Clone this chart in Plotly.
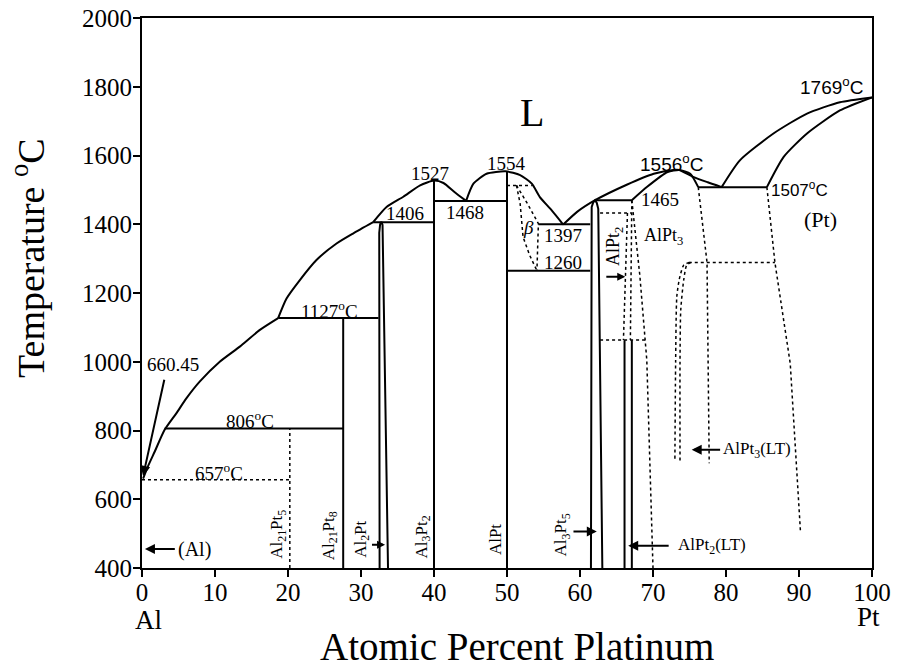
import plotly.graph_objects as go

# ---------------- data (atomic % Pt, temperature °C) ----------------
# liquidus segments
liq_al_x = [0.15, 0.8, 1.75, 3.1, 4.7, 6.1, 7.9, 10.65, 13.4, 16.1, 18.65]
liq_al_t = [660, 695, 739, 802, 850, 894, 942, 1000, 1044, 1092, 1127]
liq_b_x = [18.65, 19.8, 21.6, 23.9, 26.65, 28.9, 31.67]
liq_b_t = [1127, 1184, 1237, 1296, 1344, 1373, 1406]
liq_c_x = [31.67, 33.5, 35.8, 38.1, 40.0, 41.3, 42.8, 44.4]
liq_c_t = [1406, 1450, 1480, 1513, 1527, 1520, 1494, 1468]
liq_d_x = [44.4, 45.4, 47.2, 49.8, 51.8, 53.4, 54.5, 56.1, 57.7]
liq_d_t = [1468, 1518, 1547, 1554, 1543, 1518, 1479, 1441, 1399]
liq_e_x = [57.7, 59.6, 62.07, 66.4, 70.1, 72.8, 73.6, 75.5, 77.5, 79.4]
liq_e_t = [1399, 1436, 1470, 1515, 1547, 1558, 1558, 1538, 1522, 1508]
liq_f_x = [79.4, 81.9, 86.5, 91.1, 95.6, 100]
liq_f_t = [1508, 1586, 1664, 1722, 1755, 1769]
sol_pt_x = [85.6, 87.9, 91.1, 95.6, 100]
sol_pt_t = [1508, 1596, 1664, 1731, 1769]
sol_alpt3_x = [67.1, 69.2, 72.0, 73.6, 75.1, 76.2]
sol_alpt3_t = [1470, 1509, 1552, 1558, 1547, 1508]

# invariant horizontals (x1, x2, T)
iso_x1 = [3.1, 18.65, 31.67, 40.0, 54.3, 50.0, 62.07, 76.2]
iso_x2 = [27.56, 32.4, 40.0, 50.0, 61.4, 61.4, 67.1, 85.6]
iso_t = [806, 1127, 1406, 1468, 1400, 1265, 1470, 1508]

# compound verticals (x, T bottom, T top)
vert_x = [27.56, 40.0, 50.0, 66.1, 67.1]
vert_tb = [400, 400, 400, 400, 400]
vert_tt = [1127, 1527, 1554, 1063, 1063]

# narrow phases
al2pt_x = [32.55, 32.45, 32.5, 32.62, 32.8, 32.95, 33.7]
al2pt_t = [400, 1345, 1375, 1400, 1407, 1398, 400]
al3pt5_x = [61.5, 61.5, 61.6, 61.8, 62.07, 62.3, 62.5, 63.06]
al3pt5_t = [400, 1430, 1450, 1463, 1470, 1462, 1445, 400]

# dotted boundaries
dot_657_x = [0, 20.25]
dot_657_t = [657, 657]
dot_al21pt5_x = [20.25, 20.25]
dot_al21pt5_t = [400, 806]
beta_top_x = [50.0, 53.4]
beta_top_t = [1513, 1513]
beta_left_x = [51.3, 51.8, 52.2, 53.1, 54.1]
beta_left_t = [1513, 1460, 1363, 1310, 1265]
beta_right_x = [51.3, 52.8, 54.3, 54.1]
beta_right_t = [1513, 1460, 1402, 1265]
alpt2_top_x = [62.75, 67.0]
alpt2_top_t = [1433, 1433]
alpt2_bot_x = [62.75, 68.9]
alpt2_bot_t = [1063, 1063]
alpt2_a_x = [66.5, 65.95]
alpt2_a_t = [1433, 1063]
alpt2_b_x = [67.1, 66.9]
alpt2_b_t = [1470, 1063]
alpt3_c_x = [67.1, 68.2, 69.15, 70.0]
alpt3_c_t = [1470, 1250, 1005, 400]
alpt3_d_x = [76.2, 77.4, 77.7]
alpt3_d_t = [1508, 1289, 705]
pt_e_x = [85.6, 86.7, 88.8, 90.2]
pt_e_t = [1508, 1289, 995, 506]
lt_top_x = [74.9, 86.7]
lt_top_t = [1289, 1289]
lt_outer_x = [75.0, 74.2, 73.6, 73.26, 73.1, 73.0]
lt_outer_t = [1289, 1281, 1240, 1189, 1000, 715]
lt_inner_x = [75.2, 74.6, 74.2, 73.8, 73.7, 73.7]
lt_inner_t = [1289, 1280, 1237, 1150, 1000, 705]

x_ticks = [0, 10, 20, 30, 40, 50, 60, 70, 80, 90, 100]
y_ticks = [400, 600, 800, 1000, 1200, 1400, 1600, 1800, 2000]

SERIF = "Liberation Serif"
SANS = "Liberation Sans"

fig = go.Figure()


def line(x, t, dash="solid", width=2, spline=False):
    fig.add_trace(go.Scatter(
        x=x, y=t, mode="lines", showlegend=False, hoverinfo="skip",
        line=dict(color="black", width=width, dash=dash,
                  shape="spline" if spline else "linear", smoothing=0.6)))


for xs, ts in [(liq_al_x, liq_al_t), (liq_b_x, liq_b_t), (liq_c_x, liq_c_t),
               (liq_d_x, liq_d_t), (liq_e_x, liq_e_t), (liq_f_x, liq_f_t),
               (sol_pt_x, sol_pt_t), (sol_alpt3_x, sol_alpt3_t)]:
    line(xs, ts, spline=True)

for a, b, t in zip(iso_x1, iso_x2, iso_t):
    line([a, b], [t, t])
for x, tb, tt in zip(vert_x, vert_tb, vert_tt):
    line([x, x], [tb, tt])
line(al2pt_x, al2pt_t)
line(al3pt5_x, al3pt5_t)

dotted = [(dot_657_x, dot_657_t), (dot_al21pt5_x, dot_al21pt5_t),
          (beta_top_x, beta_top_t), (beta_left_x, beta_left_t),
          (beta_right_x, beta_right_t), (alpt2_top_x, alpt2_top_t),
          (alpt2_bot_x, alpt2_bot_t), (alpt2_a_x, alpt2_a_t),
          (alpt2_b_x, alpt2_b_t), (alpt3_c_x, alpt3_c_t),
          (alpt3_d_x, alpt3_d_t), (pt_e_x, pt_e_t), (lt_top_x, lt_top_t)]
for xs, ts in dotted:
    line(xs, ts, dash="dot", width=1.5)
line(lt_outer_x, lt_outer_t, dash="dot", width=1.5, spline=True)
line(lt_inner_x, lt_inner_t, dash="dot", width=1.5, spline=True)

ann = []


def txt(x, y, s, size=19, family=SERIF, angle=0, xanchor="center"):
    ann.append(dict(x=x, y=y, xref="x", yref="y", text=s, showarrow=False,
                    textangle=angle, xanchor=xanchor, yanchor="middle",
                    font=dict(family=family, size=size, color="black")))


def arrow(xh, yh, xt, yt, size=1.0):
    ann.append(dict(x=xh, y=yh, ax=xt, ay=yt, xref="x", yref="y",
                    axref="x", ayref="y", text="", showarrow=True,
                    arrowhead=2, arrowsize=size, arrowwidth=2,
                    arrowcolor="black"))


def paper_txt(px, py, s, size, angle=0):
    # px, py in picture pixels (from top-left of the page)
    ann.append(dict(x=(px - 142) / 730, y=(568 - py) / 550,
                    xref="paper", yref="paper", text=s, showarrow=False,
                    textangle=angle, xanchor="center", yanchor="middle",
                    font=dict(family=SERIF, size=size, color="black")))


txt(53.4, 1726, "L", size=40)
txt(94.5, 1801, "1769<sup>o</sup>C", size=19, family=SANS)
txt(72.6, 1578, "1556<sup>o</sup>C", size=19, family=SANS)
txt(85.9, 1504, "1507<sup>o</sup>C", size=17, family=SANS, xanchor="left")
txt(92.9, 1414, "(Pt)", size=22)
txt(49.9, 1578, "1554", size=19)
txt(39.4, 1549, "1527", size=19)
txt(44.2, 1433, "1468", size=19)
txt(36.0, 1431, "1406", size=19)
txt(25.7, 1152, "1127<sup>o</sup>C", size=19)
txt(57.7, 1368, "1397", size=19)
txt(57.7, 1288, "1260", size=19)
txt(71.0, 1472, "1465", size=19)
txt(52.9, 1390, "<i>β</i>", size=19)
txt(71.4, 1363, "AlPt<sub>3</sub>", size=18)
txt(64.8, 1334, "AlPt<sub>2</sub>", size=18, angle=-90)
txt(0.4, 993, "660.45", size=19, xanchor="left")
txt(14.8, 830, "806<sup>o</sup>C", size=19)
txt(10.6, 678, "657<sup>o</sup>C", size=19)
txt(4.6, 455, "(Al)", size=20, xanchor="left")
txt(18.65, 497, "Al<sub>21</sub>Pt<sub>5</sub>", size=17, angle=-90)
txt(25.7, 494, "Al<sub>21</sub>Pt<sub>8</sub>", size=17, angle=-90)
txt(30.1, 484, "Al<sub>2</sub>Pt", size=17, angle=-90)
txt(38.5, 489, "Al<sub>3</sub>Pt<sub>2</sub>", size=17, angle=-90)
txt(48.35, 484, "AlPt", size=17, angle=-90)
txt(57.5, 497, "Al<sub>3</sub>Pt<sub>5</sub>", size=17, angle=-90)
txt(73.2, 465, "AlPt<sub>2</sub>(LT)", size=17, xanchor="left")
txt(79.3, 744, "AlPt<sub>3</sub>(LT)", size=17, xanchor="left")

arrow(0.15, 668, 3.1, 952)
arrow(0.4, 455, 4.7, 455)
arrow(33.3, 468, 31.3, 468, size=0.8)
arrow(62.3, 506, 58.9, 506)
arrow(66.2, 1247, 63.4, 1247, size=0.8)
arrow(66.6, 465, 72.35, 465)
arrow(75.3, 744, 79.4, 744)

paper_txt(148, 620, "Al", 27)
paper_txt(868, 617, "Pt", 27)
paper_txt(517, 646, "Atomic Percent Platinum", 39)
paper_txt(28, 258, "Temperature <sup>o</sup>C", 38, angle=-90)

axis_common = dict(showgrid=False, zeroline=False, showline=True,
                   linecolor="black", linewidth=2, mirror=True,
                   ticks="outside", ticklen=7, tickwidth=2,
                   tickcolor="black", automargin=False,
                   ticklabeloverflow="allow",
                   tickfont=dict(family=SERIF, size=25, color="black"))

fig.update_layout(
    template="none",
    width=897, height=669,
    margin=dict(l=142, r=25, t=18, b=101),
    paper_bgcolor="white", plot_bgcolor="white",
    font=dict(family=SERIF, color="black"),
    annotations=ann,
    xaxis=dict(range=[0, 100], tickvals=x_ticks, ticklabelstandoff=-6,
               **axis_common),
    yaxis=dict(range=[400, 2000], tickvals=y_ticks, ticklabelstandoff=-4,
               **axis_common),
)

# remove the page's default 8px body margin so the figure sits at (0, 0)
fig.write_html(
    "out.html",
    config={"displayModeBar": False},
    post_script="document.body.style.margin='0';"
                "document.body.style.overflow='hidden';",
)
